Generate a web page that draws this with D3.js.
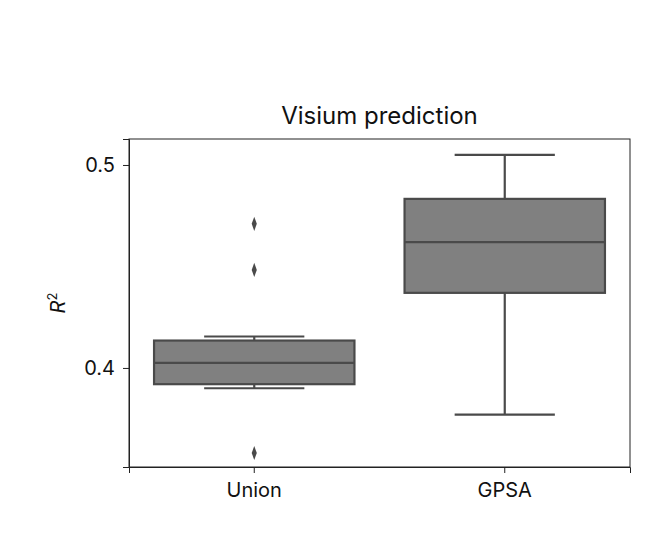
<!DOCTYPE html>
<html>
<head>
<meta charset="utf-8">
<script src="https://cdn.jsdelivr.net/npm/d3@7"></script>
<style>
  body { margin: 0; background: #fff; }
  text { font-family: Inter, "Noto Sans", sans-serif; fill: #111; }
</style>
</head>
<body>
<svg id="chart" width="651" height="555"></svg>
<script>
// Box statistics
const categories = ['Union', 'GPSA'];
const whiskerLow = [0.390, 0.377];
const q1 = [0.392, 0.437];
const median = [0.4025, 0.462];
const q3 = [0.4135, 0.4833];
const whiskerHigh = [0.4155, 0.505];
const outliers = [[0.471, 0.4483, 0.3581], []];
const yTicks = [0.4, 0.5];

const margin = { left: 129, right: 21, top: 139, bottom: 88 };
const width = 651, height = 555;
const svg = d3.select('#chart');

const x = d3.scaleBand().domain(categories)
    .range([margin.left, width - margin.right]).padding(0);
const y = d3.scaleLinear().domain([0.3512, 0.5128])
    .range([height - margin.bottom, margin.top]);

const boxFill = '#808080', lineColor = '#4a4a4a';

// axes
svg.append('g')
    .attr('transform', `translate(0,${height - margin.bottom})`)
    .call(d3.axisBottom(x).tickSize(6).tickPadding(10))
    .call(g => g.selectAll('text').style('font-size', '20px'));
svg.append('g')
    .attr('transform', `translate(${margin.left},0)`)
    .call(d3.axisLeft(y).tickValues(yTicks).tickFormat(d3.format('.1f')).tickSize(6).tickPadding(8))
    .call(g => g.selectAll('text').style('font-size', '20px'));
svg.selectAll('.domain, .tick line').attr('stroke', '#222');

// frame
svg.append('rect')
    .attr('x', margin.left).attr('y', margin.top)
    .attr('width', width - margin.left - margin.right)
    .attr('height', height - margin.top - margin.bottom)
    .attr('fill', 'none').attr('stroke', '#222');

const data = categories.map((c, i) => ({
    c, lo: whiskerLow[i], q1: q1[i], med: median[i], q3: q3[i], hi: whiskerHigh[i], out: outliers[i]
}));

const bw = x.bandwidth() * 0.8;
const g = svg.selectAll('.box').data(data).enter().append('g');
const cx = d => x(d.c) + x.bandwidth() / 2;

g.append('line').attr('x1', cx).attr('x2', cx)
    .attr('y1', d => y(d.q3)).attr('y2', d => y(d.hi))
    .attr('stroke', lineColor).attr('stroke-width', 2.2);
g.append('line').attr('x1', cx).attr('x2', cx)
    .attr('y1', d => y(d.q1)).attr('y2', d => y(d.lo))
    .attr('stroke', lineColor).attr('stroke-width', 2.2);
['lo', 'hi'].forEach(k => {
    g.append('line')
        .attr('x1', d => cx(d) - bw / 4).attr('x2', d => cx(d) + bw / 4)
        .attr('y1', d => y(d[k])).attr('y2', d => y(d[k]))
        .attr('stroke', lineColor).attr('stroke-width', 2.2);
});
g.append('rect')
    .attr('x', d => cx(d) - bw / 2).attr('width', bw)
    .attr('y', d => y(d.q3)).attr('height', d => y(d.q1) - y(d.q3))
    .attr('fill', boxFill).attr('stroke', lineColor).attr('stroke-width', 2.2);
g.append('line')
    .attr('x1', d => cx(d) - bw / 2).attr('x2', d => cx(d) + bw / 2)
    .attr('y1', d => y(d.med)).attr('y2', d => y(d.med))
    .attr('stroke', lineColor).attr('stroke-width', 2.2);
g.each(function (d) {
    d3.select(this).selectAll('.out').data(d.out).enter().append('path')
        .attr('d', d3.symbol(d3.symbolDiamond, 40))
        .attr('transform', v => `translate(${cx(d)},${y(v)}) scale(0.75,1.2)`)
        .attr('fill', lineColor);
});

// title and y label
svg.append('text').attr('x', (margin.left + width - margin.right) / 2).attr('y', 124)
    .attr('text-anchor', 'middle').style('font-size', '24px').text('Visium prediction');
const yl = svg.append('text')
    .attr('transform', `translate(65,${(margin.top + height - margin.bottom) / 2}) rotate(-90)`)
    .attr('text-anchor', 'middle').style('font-size', '20px');
yl.append('tspan').style('font-style', 'italic').text('R');
yl.append('tspan').attr('dy', -8).style('font-size', '13px').text('2');
</script>
</body>
</html>
